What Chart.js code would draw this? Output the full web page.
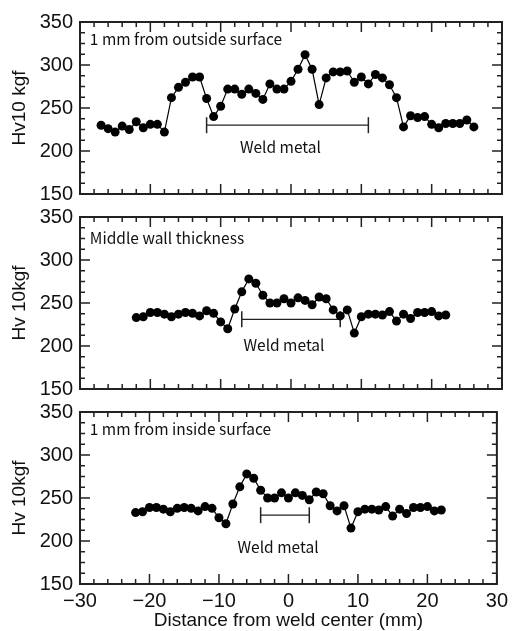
<!DOCTYPE html>
<html>
<head>
<meta charset="utf-8">
<script src="https://cdn.jsdelivr.net/npm/chart.js@4.4.0/dist/chart.umd.min.js"></script>
<style>
  body { margin: 0; background: #fff; }
  .wrap { position: relative; width: 513px; height: 631px; }
  canvas { position: absolute; left: 0; top: 0; }
</style>
</head>
<body>
<div class="wrap">
  <canvas id="c1" width="513" height="631"></canvas>
  <canvas id="c2" width="513" height="631"></canvas>
  <canvas id="c3" width="513" height="631"></canvas>
</div>
<script>
// distance from weld center (mm)
const xOutside = [-27, -26, -25, -24, -23, -22, -21, -20, -19, -18, -17, -16, -15, -14, -13, -12, -11, -10, -9, -8,
  -7, -6, -5, -4, -3, -2, -1, 0, 1, 2, 3, 4, 5, 6, 7, 8, 9, 10, 11, 12, 13, 14, 15, 16, 17, 18, 19, 20, 21, 22, 23, 24, 25, 26];
const xWall = [-22, -21, -20, -19, -18, -17, -16, -15, -14, -13, -12, -11, -10, -9, -8, -7, -6, -5, -4, -3, -2, -1,
  0, 1, 2, 3, 4, 5, 6, 7, 8, 9, 10, 11, 12, 13, 14, 15, 16, 17, 18, 19, 20, 21, 22];

// Hv10 hardness
const hvOutside = [230, 226, 222, 229, 225, 234, 227, 231, 231, 222, 262, 274, 280, 286, 286, 261, 240, 252, 272, 272,
  266, 272, 267, 260, 278, 272, 272, 281, 295, 312, 295, 254, 285, 292, 292, 293, 280, 286, 278, 289, 285, 277, 262, 228,
  241, 239, 240, 231, 227, 232, 232, 232, 236, 228];
const hvMiddle = [233, 234, 239, 239, 237, 234, 237, 239, 238, 235, 241, 238, 228, 220, 243, 263, 278, 273, 259, 250, 250, 255,
  250, 256, 253, 248, 257, 255, 242, 235, 242, 215, 234, 237, 237, 236, 240, 229, 237, 232, 239, 239, 240, 235, 236];
const hvInside = [233, 234, 239, 239, 237, 234, 238, 239, 238, 235, 240, 238, 227, 220, 243, 263, 278, 273, 259, 250, 250, 256,
  250, 256, 253, 248, 257, 255, 241, 235, 241, 215, 234, 237, 237, 236, 240, 229, 237, 232, 239, 239, 240, 235, 236];

// weld metal extent (mm) and the hardness level the bar is drawn at
const weldOutside = [-12, 11];
const weldMiddle = [-7, 7];
const weldInside = [-4, 3];
const weldLevel = [230, 231, 230];

const xTicks = [-30, -20, -10, 0, 10, 20, 30];
const yTicks = [150, 200, 250, 300, 350];
const panelTitles = ["1 mm from outside surface", "Middle wall thickness", "1 mm from inside surface"];
const yTitles = ["Hv10 kgf", "Hv 10kgf", "Hv 10kgf"];

const tickFont = { family: "'Liberation Sans', Arial, sans-serif", size: 20 };
const noteFont = "15.5px 'Noto Sans CJK JP', 'Liberation Sans', sans-serif";

const framePlugin = {
  id: 'frame',
  afterDatasetsDraw(chart, args, opts) {
    const { ctx, chartArea: a, scales: { x, y } } = chart;
    ctx.save();
    ctx.strokeStyle = '#222';
    ctx.lineWidth = 2;
    ctx.strokeRect(a.left, a.top, a.right - a.left, a.bottom - a.top);
    ctx.lineWidth = 1.5;
    ctx.beginPath();
    for (let v = -30; v <= 30; v += 2) {
      const px = x.getPixelForValue(v);
      const len = v % 10 === 0 ? 10 : 5;
      ctx.moveTo(px, a.bottom); ctx.lineTo(px, a.bottom - len);
      ctx.moveTo(px, a.top); ctx.lineTo(px, a.top + len);
    }
    for (let v = 150; v <= 350; v += 12.5) {
      const py = y.getPixelForValue(v);
      const len = (v - 150) % 50 === 0 ? 10 : 5;
      ctx.moveTo(a.left, py); ctx.lineTo(a.left + len, py);
      ctx.moveTo(a.right, py); ctx.lineTo(a.right - len, py);
    }
    ctx.stroke();

    ctx.fillStyle = '#111';
    ctx.font = noteFont;
    ctx.textBaseline = 'middle';
    ctx.textAlign = 'left';
    ctx.fillText(opts.title, x.getPixelForValue(opts.titleAt[0]), y.getPixelForValue(opts.titleAt[1]));
    ctx.textAlign = 'center';
    ctx.fillText('Weld metal', x.getPixelForValue(opts.weldAt[0]), y.getPixelForValue(opts.weldAt[1]));
    ctx.restore();
  }
};

function makePanel(id, i, xs, hv, weld, layout) {
  const last = i === 2;
  return new Chart(document.getElementById(id), {
    type: 'scatter',
    data: {
      datasets: [
        {
          data: xs.map((v, k) => ({ x: v, y: hv[k] })),
          showLine: true,
          borderColor: '#000',
          borderWidth: 1.2,
          pointRadius: 4.5,
          pointBackgroundColor: '#000',
          pointBorderWidth: 0
        },
        {
          data: weld.map(v => ({ x: v, y: weldLevel[i] })),
          showLine: true,
          borderColor: '#222',
          borderWidth: 1.3,
          pointStyle: 'line',
          rotation: 90,
          pointRadius: 8,
          pointBorderColor: '#222',
          pointBorderWidth: 1.5
        }
      ]
    },
    options: {
      responsive: false,
      animation: false,
      devicePixelRatio: 1,
      layout: { padding: { top: layout.top, right: 11, bottom: 0, left: 0 } },
      plugins: {
        legend: { display: false },
        tooltip: { enabled: false },
        frame: { title: panelTitles[i], titleAt: layout.titleAt, weldAt: layout.weldAt }
      },
      scales: {
        x: {
          type: 'linear',
          min: -30,
          max: 30,
          grid: { display: false, drawTicks: false },
          border: { display: false },
          afterBuildTicks: s => { s.ticks = xTicks.map(v => ({ value: v })); },
          afterFit: s => { s.height = 631 - layout.bottom; },
          ticks: {
            display: last,
            padding: 5,
            color: '#111',
            font: tickFont,
            maxRotation: 0,
            callback: v => String(v).replace('-', '\u2212')
          },
          title: {
            display: last,
            text: 'Distance from weld center (mm)',
            color: '#111',
            font: { family: tickFont.family, size: 19, lineHeight: 1 },
            padding: { top: 0, bottom: 1 }
          }
        },
        y: {
          min: 150,
          max: 350,
          grid: { display: false, drawTicks: false },
          border: { display: false },
          afterBuildTicks: s => { s.ticks = yTicks.map(v => ({ value: v })); },
          afterFit: s => { s.width = 80; },
          ticks: { padding: 7, color: '#111', font: tickFont },
          title: {
            display: true,
            text: yTitles[i],
            color: '#111',
            font: { family: tickFont.family, size: 19, lineHeight: 1.2 },
            padding: { top: 8, bottom: 0 }
          }
        }
      }
    },
    plugins: [framePlugin]
  });
}

makePanel('c1', 0, xOutside, hvOutside, weldOutside,
  { top: 22, bottom: 194, titleAt: [-28.6, 330], weldAt: [-1.5, 205] });
makePanel('c2', 1, xWall, hvMiddle, weldMiddle,
  { top: 217, bottom: 389, titleAt: [-28.6, 325], weldAt: [-1, 201] });
makePanel('c3', 2, xWall, hvInside, weldInside,
  { top: 412, bottom: 584, titleAt: [-28.6, 330], weldAt: [-1.5, 193] });
</script>
</body>
</html>
